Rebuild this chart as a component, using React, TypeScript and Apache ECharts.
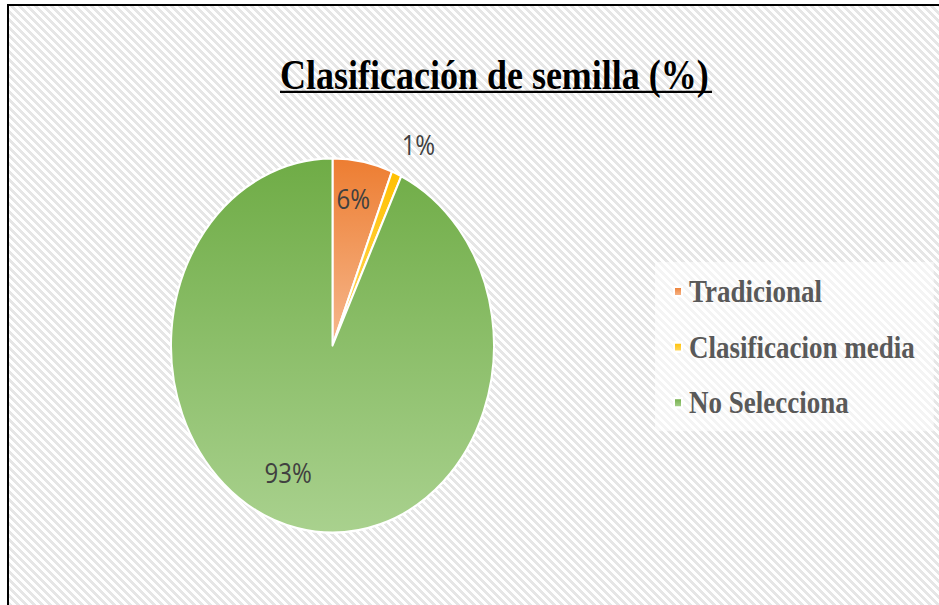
import React, { useEffect, useRef } from "react";
import * as echarts from "echarts";

const TITLE = "Clasificación de semilla (%)";
const CATEGORIES = ["Tradicional", "Clasificacion media", "No Selecciona"];
const VALUES = [6, 1, 93];
const COLORS_TOP = ["#ED7D31", "#FFC000", "#6FAC46"];
const COLORS_BOTTOM = ["#F6B88E", "#FFD966", "#A9D18E"];
const LABEL_POS = ["inside", "outside", "inside"];
const LABEL_DX = [5, 0, -26];
const LABEL_DY = [-45, -25, 27.5];

const W = 939;
const H = 522;
const SY = 605 / H;

export default function App() {
  const ref = useRef<HTMLDivElement>(null);
  useEffect(() => {
    if (!ref.current) return;
    const chart = echarts.init(ref.current, undefined, { renderer: "svg" });
    const data = CATEGORIES.map((name, i) => ({
      name,
      value: VALUES[i],
      itemStyle: {
        color: new echarts.graphic.LinearGradient(0, 0, 0, 1, [
          { offset: 0, color: COLORS_TOP[i] },
          { offset: 1, color: COLORS_BOTTOM[i] },
        ]),
      },
      label: { position: LABEL_POS[i] as any },
    }));
    chart.setOption({
      animation: false,
      backgroundColor: "transparent",
      title: {
        text: TITLE,
        left: 280,
        top: 46,
        padding: 0,
        textStyle: {
          fontFamily: "Liberation Serif",
          fontWeight: "bold",
          fontSize: 36,
          color: "#000",
        },
      },
      graphic: [
        {
          type: "line",
          shape: { x1: 280, y1: 79.3, x2: 712, y2: 79.3 },
          style: { stroke: "#000", lineWidth: 2 },
        },
      ],
      legend: {
        orient: "vertical",
        left: 655,
        top: 226,
        padding: [12, 19, 11, 18],
        backgroundColor: "rgba(255,255,255,0.55)",
        icon: "rect",
        itemWidth: 8,
        itemHeight: 8,
        itemGap: 21,
        data: CATEGORIES,
        textStyle: {
          fontFamily: "Liberation Serif",
          fontWeight: "bold",
          fontSize: 27,
          color: "#595959",
          padding: [0, 0, 0, 2],
        },
      },
      series: [
        {
          type: "pie",
          center: [332.5, 298.1],
          radius: 161.5,
          startAngle: 90,
          clockwise: true,
          avoidLabelOverlap: false,
          percentPrecision: 0,
          data,
          itemStyle: { borderColor: "#fff", borderWidth: 2 },
          label: {
            show: true,
            formatter: "{d}%",
            fontFamily: "Open Sans",
            fontSize: 24,
            color: "#404040",
          },
          labelLine: { show: false, length: 0, length2: 0 },
          labelLayout: (p: any) => ({
            dx: LABEL_DX[p.dataIndex],
            dy: LABEL_DY[p.dataIndex],
          }),
          emphasis: { disabled: true },
        },
      ],
    });
    return () => chart.dispose();
  }, []);

  const hatch =
    "repeating-linear-gradient(45deg, #ffffff 0px, #ffffff 2.8px, #e6e6e6 2.8px, #e6e6e6 5.66px)";

  return (
    <div
      style={{
        position: "fixed",
        left: 0,
        top: 0,
        width: W,
        height: 605,
        overflow: "hidden",
        background: "#fff",
      }}
    >
      <div
        style={{
          position: "absolute",
          left: 7,
          top: 4,
          width: 1000,
          height: 700,
          borderTop: "2px solid #000",
          borderLeft: "2px solid #000",
          backgroundImage: hatch,
        }}
      />
      <div
        style={{
          position: "absolute",
          left: 0,
          top: 0,
          width: W,
          height: H,
          transform: `scaleY(${SY})`,
          transformOrigin: "0 0",
        }}
      >
        <div ref={ref} style={{ width: W, height: H }} />
      </div>
    </div>
  );
}
